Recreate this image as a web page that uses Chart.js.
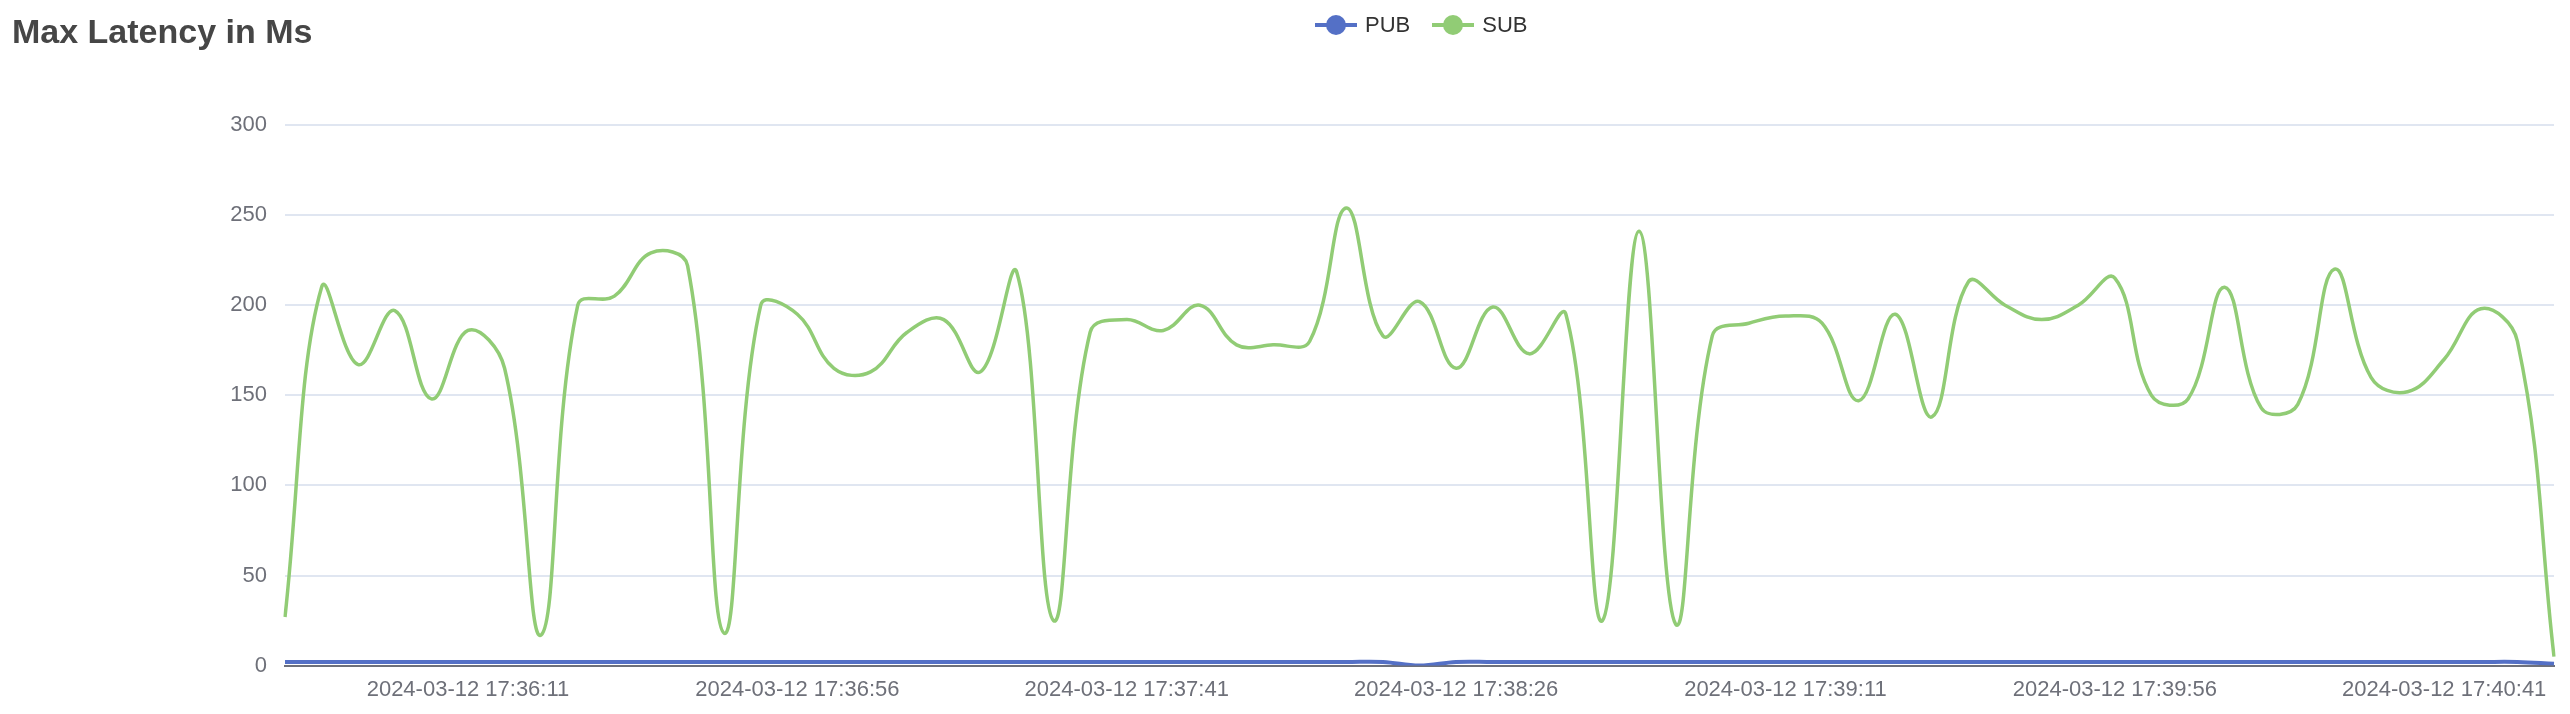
<!DOCTYPE html>
<html>
<head>
    <title>Max Latency in Ms</title>
    <script src="https://cdn.jsdelivr.net/npm/chart.js"></script>
    <style>
        body { margin: 0; background: #fff; font-family: "Liberation Sans", Arial, sans-serif; }
        .wrap { position: relative; width: 2570px; height: 714px; }
        .title { position: absolute; left: 12px; top: 12px; font-size: 34px; font-weight: bold; color: #464646; }
        .legend { position: absolute; top: 12px; left: 1315px; font-size: 22px; color: #333; display: flex; gap: 22px; }
        .legend span { display: flex; align-items: center; }
        .icon { position: relative; width: 42px; height: 22px; margin-right: 8px; }
        .icon i { position: absolute; left: 0; top: 9px; width: 42px; height: 4px; }
        .icon b { position: absolute; left: 11px; top: 1px; width: 20px; height: 20px; border-radius: 50%; }
    </style>
</head>
<body>
<div class="wrap">
    <div class="title">Max Latency in Ms</div>
    <div class="legend">
        <span><div class="icon"><i style="background:#5470c6"></i><b style="background:#5470c6"></b></div>PUB</span>
        <span><div class="icon"><i style="background:#91cc75"></i><b style="background:#91cc75"></b></div>SUB</span>
    </div>
    <canvas id="chart" width="2570" height="714"></canvas>
</div>
<script>
    // 5 second samples from 17:35:46 to 17:40:56
    const times = [];
    for (let i = 0; i < 63; i++) {
        const s = 46 + i * 5;
        const m = 35 + Math.floor(s / 60);
        const ss = s % 60;
        times.push('2024-03-12 17:' + m + ':' + String(ss).padStart(2, '0'));
    }

    const subValues = [27, 210, 167, 197, 148, 186, 165, 17, 200, 205,
        229, 222, 18, 200, 195, 165, 163, 185, 192, 163,
        218, 25, 185, 192, 186, 200, 178, 178, 180, 254,
        183, 202, 165, 199, 173, 195, 25, 241, 23, 183,
        190, 194, 190, 147, 195, 138, 213, 200, 192, 200,
        215, 150, 148, 210, 143, 145, 220, 160, 152, 170,
        198, 180, 5];

    const pubValues = [2, 2, 2, 2, 2, 2, 2, 2, 2, 2,
        2, 2, 2, 2, 2, 2, 2, 2, 2, 2,
        2, 2, 2, 2, 2, 2, 2, 2, 2, 2,
        2, 0, 2, 2, 2, 2, 2, 2, 2, 2,
        2, 2, 2, 2, 2, 2, 2, 2, 2, 2,
        2, 2, 2, 2, 2, 2, 2, 2, 2, 2,
        2, 2, 1];

    const yTicks = [0, 50, 100, 150, 200, 250, 300];

    new Chart(document.getElementById('chart'), {
        type: 'line',
        data: {
            labels: times,
            datasets: [
                { label: 'PUB', data: pubValues, borderColor: '#5470c6', borderWidth: 4, pointRadius: 0, tension: 0.4 },
                { label: 'SUB', data: subValues, borderColor: '#91cc75', borderWidth: 3.5, pointRadius: 0, tension: 0.4 }
            ]
        },
        options: {
            responsive: false,
            animation: false,
            layout: { padding: { top: 125, right: 16, left: 0, bottom: 8 } },
            plugins: { legend: { display: false }, tooltip: { enabled: false } },
            scales: {
                x: {
                    offset: false,
                    grid: { display: false, drawTicks: true, tickLength: 8, color: '#6e7079' },
                    border: { color: '#6e7079', width: 2 },
                    ticks: {
                        autoSkip: false, maxRotation: 0, color: '#6e7079',
                        font: { size: 22, family: 'Liberation Sans' },
                        callback: (v, i) => ((i - 5) % 9 === 0 && i >= 5) ? times[i] : null
                    }
                },
                y: {
                    min: 0, max: 300,
                    afterBuildTicks: a => { a.ticks = yTicks.map(v => ({ value: v })); },
                    grid: { color: '#e0e6f1', lineWidth: 2, drawTicks: false },
                    border: { display: false },
                    ticks: { color: '#6e7079', padding: 18, font: { size: 22, family: 'Liberation Sans' } },
                    afterFit: a => { a.width = 285; }
                }
            }
        }
    });
</script>
</body>
</html>
